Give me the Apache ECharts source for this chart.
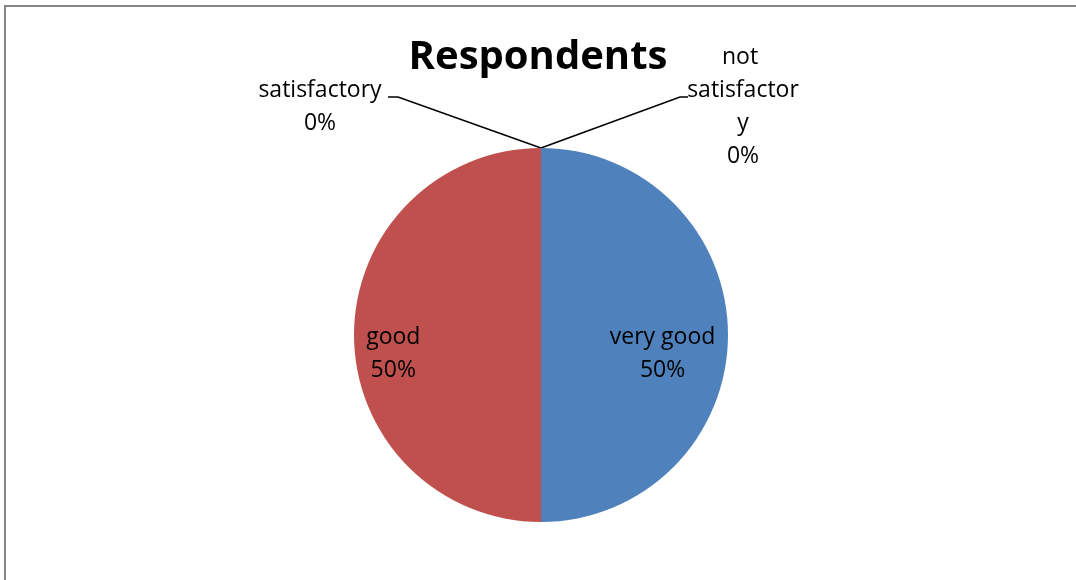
<!DOCTYPE html>
<html>
<head>
<meta charset="utf-8">
<script src="https://cdn.jsdelivr.net/npm/echarts@6/dist/echarts.min.js"></script>
<style>
html,body{margin:0;padding:0;background:#fff;}
#main{width:1076px;height:580px;}
</style>
</head>
<body>
<div id="main"></div>
<script>
const titleText = 'Respondents';
const categories = ['very good', 'good', 'satisfactory', 'not satisfactory'];
const values = [50, 50, 0, 0];
const colors = ['#4F81BD', '#C0504D', '#9BBB59', '#8064A2'];

const FONT = '"Open Sans", "Liberation Sans", Arial, sans-serif';
const cx = 541, cy = 335, r = 187;

const chart = echarts.init(document.getElementById('main'));
chart.setOption({
  backgroundColor: '#fff',
  animation: false,
  title: {
    text: titleText,
    left: 'center',
    top: 33,
    textStyle: { fontFamily: FONT, fontSize: 40, fontWeight: 'bold', color: '#000' }
  },
  graphic: [{
    type: 'rect',
    shape: { x: 5, y: 6, width: 1200, height: 700 },
    style: { fill: null, stroke: '#868686', lineWidth: 2 },
    silent: true
  }],
  series: [{
    type: 'pie',
    center: [cx, cy],
    radius: r,
    startAngle: 90,
    clockwise: true,
    avoidLabelOverlap: false,
    minShowLabelAngle: 0,
    data: categories.map((n, i) => ({
      name: n,
      value: values[i],
      itemStyle: { color: colors[i] },
      label: i < 2 ? { position: 'inside', width: 140 }
           : (i === 2 ? { position: 'outside', width: 140 } : { position: 'outside', width: 116 }),
      labelLine: { show: i >= 2 }
    })),
    label: {
      show: true,
      formatter: p => p.name + '\n' + Math.round(p.percent) + '%',
      fontFamily: FONT,
      fontSize: 23,
      lineHeight: 33,
      color: '#000',
      align: 'center',
      overflow: 'break'
    },
    labelLine: {
      show: true,
      lineStyle: { color: '#000', width: 1.5 }
    },
    labelLayout: function (p) {
      const top = [cx, cy - r];
      if (p.dataIndex === 0) {
        return { x: cx + 0.65 * r, y: cy + 0.1 * r, align: 'center', verticalAlign: 'middle' };
      }
      if (p.dataIndex === 1) {
        return { x: cx - 0.79 * r, y: cy + 0.1 * r, align: 'center', verticalAlign: 'middle' };
      }
      if (p.dataIndex === 2) {
        return {
          x: cx - 221, y: 107, align: 'center', verticalAlign: 'middle',
          labelLinePoints: [top, [cx - 143, 97], [cx - 153, 97]]
        };
      }
      return {
        x: cx + 202, y: 107, align: 'center', verticalAlign: 'middle',
        labelLinePoints: [top, [cx + 139, 97], [cx + 147, 97]]
      };
    },
    emphasis: { disabled: true }
  }]
});
</script>
</body>
</html>
